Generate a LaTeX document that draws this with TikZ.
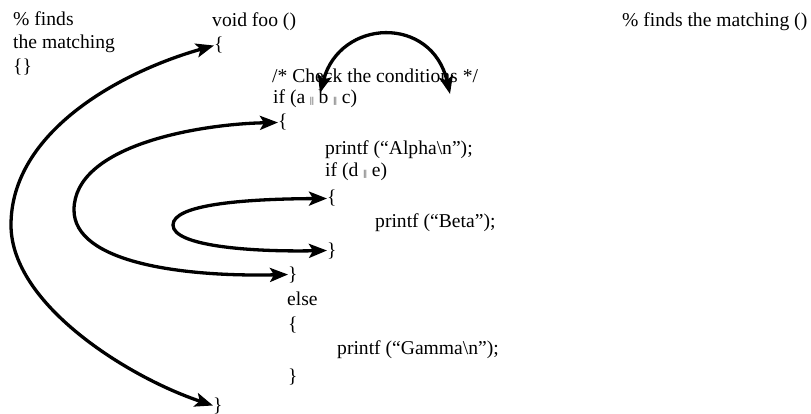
\documentclass[tikz,border=0pt]{standalone}
\usepackage{fontspec}
\setmainfont{Liberation Serif}
\usetikzlibrary{arrows.meta}
\newcommand{\smbars}{{\fontsize{9}{9}\selectfont ||}}
\begin{document}
\begin{tikzpicture}[x=1pt,y=-1pt,
  txt/.style={anchor=base west, inner sep=0pt, font=\fontsize{19.6}{23}\selectfont},
  arc/.style={line width=3.3pt,
    {Stealth[length=18pt,width=14pt,inset=4pt]}-{Stealth[length=18pt,width=14pt,inset=4pt]}}]
\useasboundingbox (0,0) rectangle (811,414);
% left comment
\node[txt] (c1) at (13,26) {\% finds};
\node[txt] (c2) at (13,49) {the matching};
\node[txt] (c3) at (13,73) {\{\}};
% right comment
\node[txt] (c4) at (622,27) {\% finds the matching ()};
% code
\node[txt] (foo) at (212,27) {void foo ()};
\node[txt] (b1) at (214,51) {\{};
\node[txt] (chk) at (272,83) {/* Check the conditions */};
\node[txt] (ifa) at (273,104) {if (a \smbars\ b \smbars\ c)};
\node[txt] (b2) at (278,128) {\{};
\node[txt] (alpha) at (325,155) {printf (“Alpha\textbackslash n”);};
\node[txt] (ifd) at (325,177) {if (d \smbars\ e)};
\node[txt] (b3) at (327,204) {\{};
\node[txt] (beta) at (375,227) {printf (“Beta”);};
\node[txt] (b4) at (327,256) {\}};
\node[txt] (b5) at (288,280) {\}};
\node[txt] (els) at (287,305) {else};
\node[txt] (b7) at (288,330) {\{};
\node[txt] (gamma) at (337,354) {printf (“Gamma\textbackslash n”);};
\node[txt] (b8) at (288,382) {\}};
\node[txt] (b6) at (213,411) {\}};
% arc coordinates
\coordinate (L1) at (11,225);
\coordinate (L2) at (74,210);
\coordinate (L3) at (173,225);
\coordinate (ta) at (320,93);
\coordinate (tb) at (450,94);
% arcs
\draw[arc] (b1.west) .. controls (120,72) and (11,132) .. (L1)
  .. controls (11,305) and (130,378) .. (b6.west);
\draw[arc] (b2.west) .. controls (200,124) and (74,145) .. (L2)
  .. controls (74,262) and (180,277) .. (b5.west);
\draw[arc] (b3.west) .. controls (240,199) and (173,205) .. (L3)
  .. controls (173,246) and (250,252) .. (b4.west);
\draw[arc] (ta) .. controls (340,18) and (432,15) .. (tb);
\end{tikzpicture}
\end{document}
